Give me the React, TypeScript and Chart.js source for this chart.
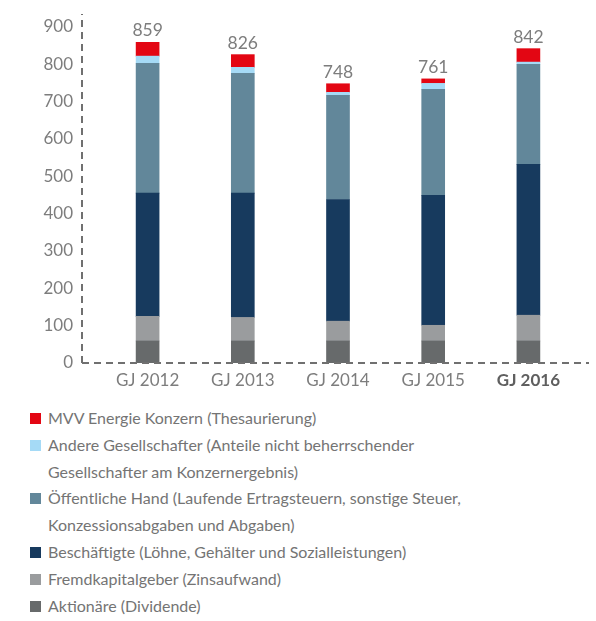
import React, { useEffect, useRef } from "react";
import { Chart, registerables } from "chart.js";

Chart.register(...registerables);

const categories = ["GJ 2012", "GJ 2013", "GJ 2014", "GJ 2015", "GJ 2016"];
const aktionaere = [59, 59, 59, 59, 59];
const fremdkapital = [66, 63, 53, 42, 69];
const beschaeftigte = [330, 333, 326, 348, 404];
const oeffentlich = [348, 321, 279, 284, 268];
const andere = [19, 16, 8, 16, 6];
const mvv = [37, 34, 23, 12, 36];
const yTicks = [0, 100, 200, 300, 400, 500, 600, 700, 800, 900];

const series = [
  { label: "Aktionäre (Dividende)", data: aktionaere, color: "#676a6b" },
  { label: "Fremdkapitalgeber (Zinsaufwand)", data: fremdkapital, color: "#9a9c9e" },
  { label: "Beschäftigte (Löhne, Gehälter und Sozialleistungen)", data: beschaeftigte, color: "#173a5e" },
  { label: "Öffentliche Hand (Laufende Ertragsteuern, sonstige Steuer,\nKonzessionsabgaben und Abgaben)", data: oeffentlich, color: "#62879a" },
  { label: "Andere Gesellschafter (Anteile nicht beherrschender\nGesellschafter am Konzernergebnis)", data: andere, color: "#a5daf6" },
  { label: "MVV Energie Konzern (Thesaurierung)", data: mvv, color: "#e30613" },
];

const FONT = "Lato, sans-serif";
const GREY = "#7d7d7d";

const axesPlugin = {
  id: "dashedAxes",
  afterDatasetsDraw(chart: any) {
    const { ctx, chartArea } = chart;
    const x0 = chartArea.left - 18;
    const y0 = chartArea.bottom;
    ctx.save();
    ctx.strokeStyle = "#707070";
    ctx.lineWidth = 2;
    ctx.setLineDash([7, 5]);
    ctx.beginPath();
    ctx.moveTo(x0, y0);
    ctx.lineTo(x0, chartArea.top - 13);
    ctx.stroke();
    ctx.beginPath();
    ctx.moveTo(x0, y0);
    ctx.lineTo(chartArea.right + 13, y0);
    ctx.stroke();
    ctx.restore();

    const yScale = chart.scales.y;
    const xScale = chart.scales.x;
    ctx.save();
    ctx.fillStyle = GREY;
    ctx.font = `17.5px ${FONT}`;
    ctx.textAlign = "center";
    ctx.textBaseline = "bottom";
    categories.forEach((_, i) => {
      const total = series.reduce((s, d) => s + d.data[i], 0);
      const x = xScale.getPixelForValue(i);
      const y = yScale.getPixelForValue(total);
      ctx.fillText(String(total), x, y - 3);
    });
    ctx.restore();
  },
};

export default function App() {
  const ref = useRef<HTMLCanvasElement>(null);
  useEffect(() => {
    document.body.style.margin = "0";
    const chart = new Chart(ref.current!, {
      type: "bar",
      data: {
        labels: categories,
        datasets: series.map((s) => ({
          label: s.label,
          data: s.data,
          backgroundColor: s.color,
          borderWidth: 0,
          barThickness: 23,
        })),
      },
      options: {
        animation: false,
        responsive: false,
        maintainAspectRatio: false,
        layout: { padding: { top: 27, right: 20, left: 0, bottom: 0 } },
        plugins: { legend: { display: false }, tooltip: { enabled: false } },
        scales: {
          x: {
            stacked: true,
            grid: { display: false, drawTicks: false },
            border: { display: false },
            ticks: {
              padding: 7,
              color: (c: any) => (c.index === 4 ? "#5f5f5f" : GREY),
              font: (c: any) => ({
                family: FONT,
                size: 17,
                weight: c.index === 4 ? "bold" : "normal",
              }),
            },
            afterFit: (s: any) => {
              s.height = 37;
              s.paddingLeft = 0;
              s.paddingRight = 0;
            },
          },
          y: {
            stacked: true,
            min: 0,
            max: 900,
            grid: { display: false, drawTicks: false },
            border: { display: false },
            afterBuildTicks: (s: any) => {
              s.ticks = yTicks.map((v) => ({ value: v }));
            },
            ticks: {
              padding: 27,
              color: GREY,
              font: { family: FONT, size: 17 },
            },
            afterFit: (s: any) => {
              s.width = 100;
              s.paddingTop = 0;
              s.paddingBottom = 0;
            },
          },
        },
      },
      plugins: [axesPlugin],
    });
    return () => chart.destroy();
  }, []);

  const legendItems = [...series].reverse();
  return (
    <div style={{ position: "relative", width: 596, height: 621, fontFamily: FONT }}>
      <canvas ref={ref} width={596} height={400} style={{ display: "block" }} />
      <div style={{ position: "absolute", left: 30, top: 405 }}>
        {legendItems.map((s) => (
          <div key={s.label} style={{ position: "relative", paddingLeft: 18, fontSize: 16, lineHeight: "26.8px", color: "#747474", whiteSpace: "pre-line" }}>
            <span style={{ position: "absolute", left: 0, top: 8, width: 11, height: 11, background: s.color }} />
            {s.label}
          </div>
        ))}
      </div>
    </div>
  );
}
